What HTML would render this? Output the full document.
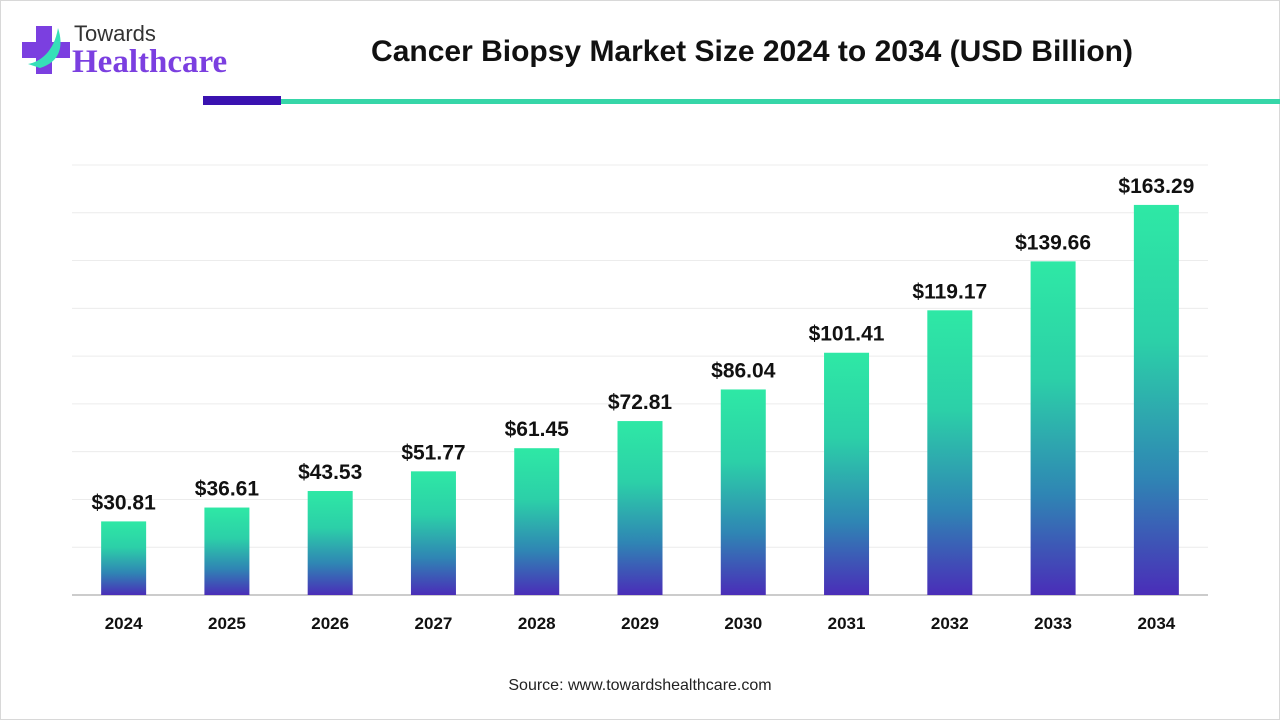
<!DOCTYPE html>
<html><head><meta charset="utf-8"><style>
body{margin:0;width:1280px;height:720px;background:#fff;font-family:"Liberation Sans",sans-serif;overflow:hidden;position:relative}
.frame{position:absolute;left:0;top:0;width:1278px;height:718px;border:1px solid #d8d8d8}
</style></head><body>
<div class="frame"></div>
<div style="position:absolute;left:20px;top:22px;width:220px;height:60px">
<svg width="60" height="60" style="position:absolute;left:0;top:0">
<rect x="16" y="4" width="16" height="48" fill="#7b3fe0"/><rect x="2" y="20" width="48" height="16" fill="#7b3fe0"/>
<path d="M8 42 C20 40 34 30 38 6 C44 24 40 40 20 46 Z" fill="#36e0b8"/>
</svg>
<div style="position:absolute;left:54px;top:-1px;font-size:22px;color:#333">Towards</div>
<div style="position:absolute;left:52px;top:22px;font-size:33px;font-weight:bold;color:#7b3fe0;font-family:'Liberation Serif',serif">Healthcare</div>
</div>
<div style="position:absolute;left:300px;top:35px;width:904px;text-align:center;font-size:30px;font-weight:bold;color:#111">Cancer Biopsy Market Size 2024 to 2034 (USD Billion)</div>
<div style="position:absolute;left:203px;top:96px;width:78px;height:9px;background:#3a12b0"></div>
<div style="position:absolute;left:281px;top:99px;width:999px;height:5px;background:#36d6a8"></div>
<svg id="chart" width="1280" height="720" style="position:absolute;left:0;top:0">
<defs><linearGradient id="g" x1="0" y1="0" x2="0" y2="1">
<stop offset="0" stop-color="#2ee8a5"/><stop offset="0.35" stop-color="#2cd0a8"/><stop offset="0.7" stop-color="#2f85b4"/><stop offset="1" stop-color="#4a2db8"/>
</linearGradient></defs>
</svg>
<div style="position:absolute;left:0;top:677px;width:1280px;text-align:center;font-size:16px;color:#222">Source: www.towardshealthcare.com</div>
<script>
const categories=["2024","2025","2026","2027","2028","2029","2030","2031","2032","2033","2034"];
const values=[30.81,36.61,43.53,51.77,61.45,72.81,86.04,101.41,119.17,139.66,163.29];
const valueLabels=["$30.81","$36.61","$43.53","$51.77","$61.45","$72.81","$86.04","$101.41","$119.17","$139.66","$163.29"];
const gridTicks=[0,20,40,60,80,100,120,140,160,180];
const svg=document.getElementById('chart');
const NS='http://www.w3.org/2000/svg';
const x0=72,x1=1208,yBase=595,yTop=165,yMax=180;
const step=(x1-x0)/categories.length;
const y=v=>yBase-(v/yMax)*(yBase-yTop);
const xc=i=>x0+step*(i+0.5);
function mk(t,a){const e=document.createElementNS(NS,t);for(const k in a)e.setAttribute(k,a[k]);svg.appendChild(e);return e;}
gridTicks.forEach(t=>{const l=mk('line',{x1:x0,x2:x1,y1:y(t),y2:y(t),stroke:t===0?'#bbb':'#ececec','stroke-width':t===0?1.5:1});

});
categories.forEach((c,i)=>{
const bw=45;
const r=mk('rect',{x:xc(i)-bw/2,y:y(values[i]),width:bw,height:yBase-y(values[i]),fill:'url(#g)'});


const vl=mk('text',{x:xc(i),y:y(values[i])-12,'text-anchor':'middle','font-size':21,'font-weight':'bold',fill:'#111','font-family':'Liberation Sans, sans-serif'});
vl.textContent=valueLabels[i];


const xl=mk('text',{x:xc(i),y:629,'text-anchor':'middle','font-size':17,'font-weight':'bold',fill:'#111','font-family':'Liberation Sans, sans-serif'});
xl.textContent=c;


});
</script>
</body></html>
